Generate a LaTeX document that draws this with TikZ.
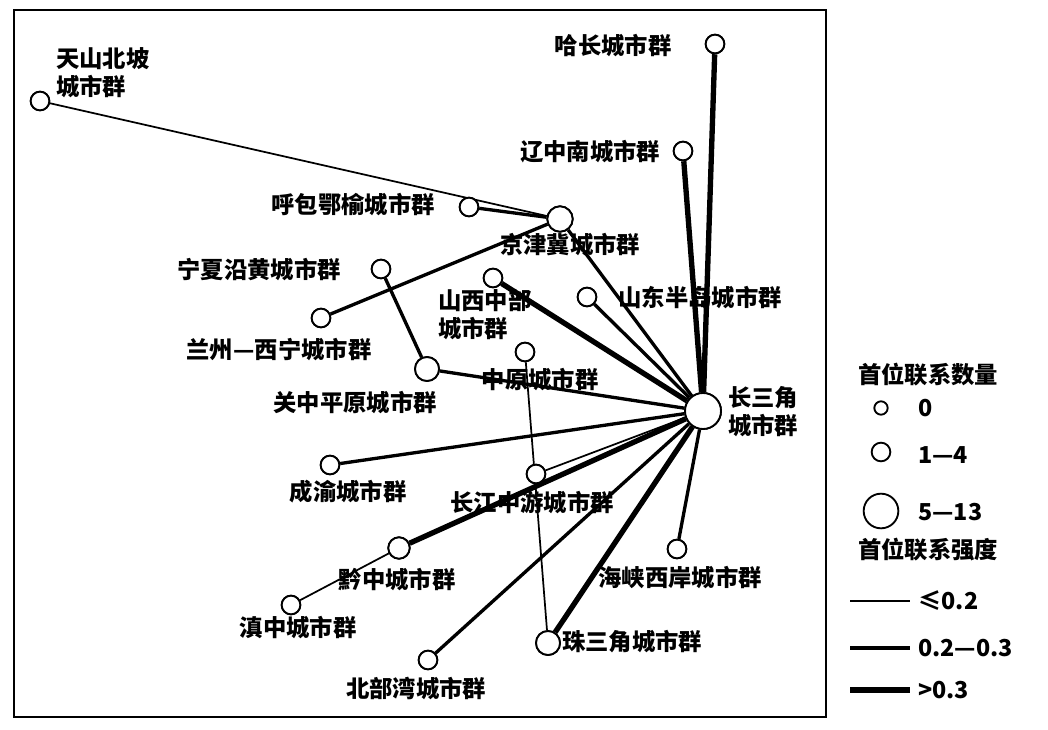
\documentclass[tikz,border=0pt]{standalone}
\usepackage{fontspec}
\setmainfont{Noto Sans CJK SC}
\usetikzlibrary{positioning}
\tikzset{
  city/.style={circle, draw, line width=1.4pt, fill=white, inner sep=0pt, minimum size=#1},
  city/.default=14pt,
  weak/.style={line width=1.3pt},
  mid/.style={line width=2.5pt},
  strong/.style={line width=4pt},
  lbl/.style={font=\fontsize{17.5}{21}\selectfont\bfseries, inner sep=0pt}
}
\begin{document}
\begin{tikzpicture}[x=0.75pt, y=-0.75pt]
  \useasboundingbox (0,0) rectangle (1048,730);
  \draw[line width=1.6pt] (14,10) rectangle (826,717);

  % Nodes
  \node[city=27pt] (csj) at (703,411) {};
  \node[city=19pt] (jjj) at (560,219) {};
  \node[city=18pt] (gz) at (427,369) {};
  \node[city=18pt] (zsj) at (548,643) {};
  \node[city=16pt] (qz) at (399,548) {};
  \node[city] (tsbp) at (40,101) {};
  \node[city] (hc) at (715,44) {};
  \node[city] (lzn) at (683,151) {};
  \node[city] (hbey) at (469,207) {};
  \node[city] (nxyh) at (381,269) {};
  \node[city] (lzxn) at (321,318) {};
  \node[city] (sxzb) at (493,278) {};
  \node[city] (sdbd) at (587,297) {};
  \node[city] (zy) at (525,352) {};
  \node[city] (cy) at (330,465) {};
  \node[city] (cjzy) at (536,474) {};
  \node[city] (dz) at (291,605) {};
  \node[city] (bbw) at (428,660) {};
  \node[city] (hxxa) at (677,549) {};

  % Links
  \draw[weak] (tsbp) -- (jjj);
  \draw[mid] (hbey) -- (jjj);
  \draw[mid] (lzxn) -- (jjj);
  \draw[mid] (nxyh) -- (gz);
  \draw[mid] (gz) -- (csj);
  \draw[mid] (jjj) -- (csj);
  \draw[strong] (sxzb) -- (csj);
  \draw[mid] (sdbd) -- (csj);
  \draw[strong] (hc) -- (csj);
  \draw[strong] (lzn) -- (csj);
  \draw[weak] (zy) -- (zsj);
  \draw[mid] (cy) -- (csj);
  \draw[weak] (cjzy) -- (csj);
  \draw[strong] (qz) -- (csj);
  \draw[weak] (dz) -- (qz);
  \draw[mid] (bbw) -- (csj);
  \draw[strong] (zsj) -- (csj);
  \draw[mid] (hxxa) -- (csj);
  \foreach \n/\s in {csj/27pt,jjj/19pt,gz/18pt,zsj/18pt,qz/16pt,tsbp/14pt,hc/14pt,lzn/14pt,hbey/14pt,nxyh/14pt,lzxn/14pt,sxzb/14pt,sdbd/14pt,zy/14pt,cy/14pt,cjzy/14pt,dz/14pt,bbw/14pt,hxxa/14pt}
    \node[city=\s] at (\n) {};

  % Labels
  \node[lbl, align=left, anchor=west] (tsbpl) at (56,73) {天山北坡\\城市群};
  \node[lbl] (hcl) at (613,46) {哈长城市群};
  \node[lbl] (lznl) at (590,152) {辽中南城市群};
  \node[lbl] (hbeyl) at (353,205) {呼包鄂榆城市群};
  \node[lbl] (jjjl) at (570,245) {京津冀城市群};
  \node[lbl] (nxyhl) at (259,270) {宁夏沿黄城市群};
  \node[lbl, align=left, anchor=west] (sxzbl) at (438,315) {山西中部\\城市群};
  \node[lbl] (sdbdl) at (700,298) {山东半岛城市群};
  \node[lbl] (lzxnl) at (279,350) {兰州—西宁城市群};
  \node[lbl] (zyl) at (540,380) {中原城市群};
  \node[lbl] (gzl) at (355,403) {关中平原城市群};
  \node[lbl, align=left, anchor=west] (csjl) at (728,412) {长三角\\城市群};
  \node[lbl] (cyl) at (348,492) {成渝城市群};
  \node[lbl] (cjzyl) at (532,503) {长江中游城市群};
  \node[lbl] (qzl) at (397,580) {黔中城市群};
  \node[lbl] (dzl) at (298,628) {滇中城市群};
  \node[lbl] (hxxal) at (680,578) {海峡西岸城市群};
  \node[lbl, anchor=west] (zsjl) at (562,642) {珠三角城市群};
  \node[lbl] (bbwl) at (416,688) {北部湾城市群};

  % Legend
  \node[lbl] (numt) at (928,375) {首位联系数量};
  \node[city=10pt] (n0) at (881,408) {};
  \node[city=14pt] (n1) at (881,452) {};
  \node[city=26pt] (n2) at (881,511) {};
  \node[lbl, anchor=west] at (918,408) {0};
  \node[lbl, anchor=west] at (918,455) {1—4};
  \node[lbl, anchor=west] at (918,512) {5—13};
  \node[lbl] (strt) at (928,550) {首位联系强度};
  \coordinate (s1a) at (850,601); \coordinate (s1b) at (910,601);
  \coordinate (s2a) at (850,648); \coordinate (s2b) at (910,648);
  \coordinate (s3a) at (850,690); \coordinate (s3b) at (910,690);
  \draw[weak] (s1a) -- (s1b);
  \draw[mid] (s2a) -- (s2b);
  \draw[strong] (s3a) -- (s3b);
  \node[lbl, anchor=west] at (918,601) {≤0.2};
  \node[lbl, anchor=west] at (918,648) {0.2—0.3};
  \node[lbl, anchor=west] at (918,690) {>0.3};
\end{tikzpicture}
\end{document}
